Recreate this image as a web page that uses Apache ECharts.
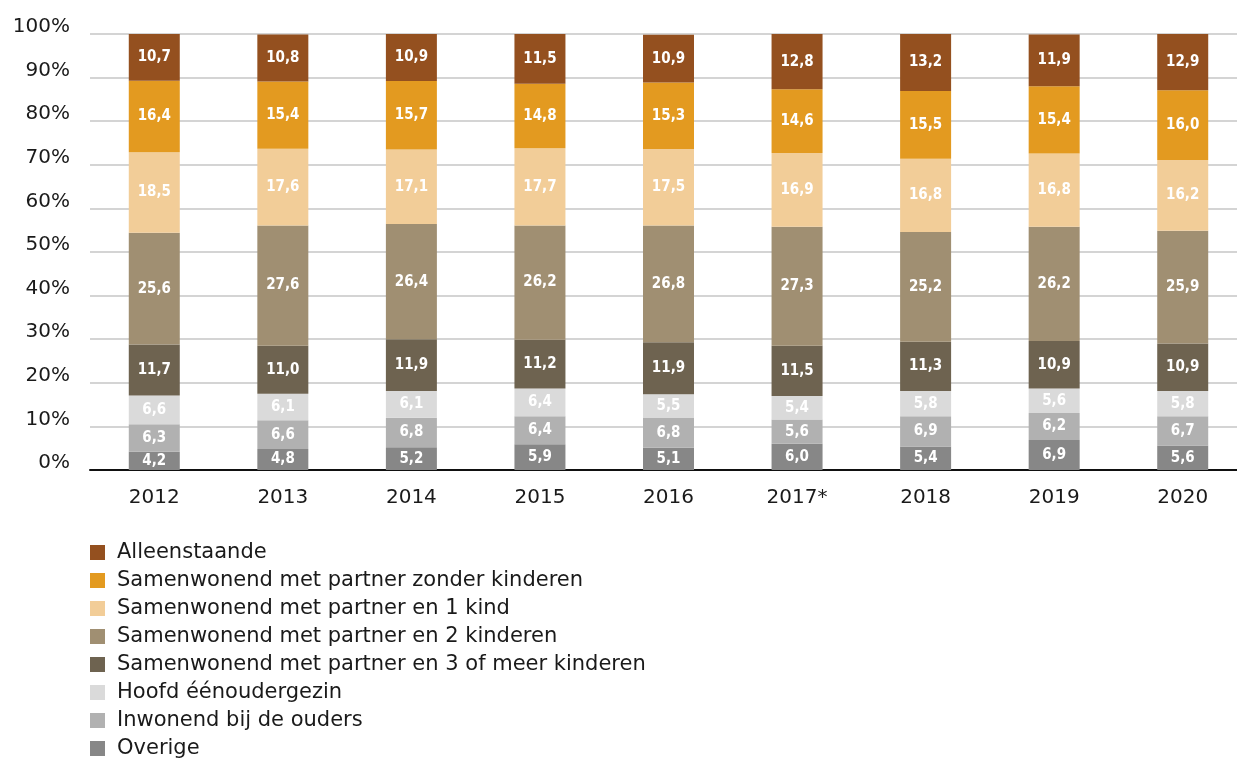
<!DOCTYPE html>
<html>
<head>
<meta charset="utf-8">
<script src="https://cdn.jsdelivr.net/npm/echarts@6/dist/echarts.min.js"></script>
<style>
  html, body { margin: 0; padding: 0; background: #fff; }
  #chart { width: 1237px; height: 758px; }
</style>
</head>
<body>
<div id="chart"></div>
<script>
// jaren
const years = ['2012', '2013', '2014', '2015', '2016', '2017*', '2018', '2019', '2020'];

// reeksen, van onder naar boven gestapeld
const overige      = [4.2, 4.8, 5.2, 5.9, 5.1, 6.0, 5.4, 6.9, 5.6];
const inwonend     = [6.3, 6.6, 6.8, 6.4, 6.8, 5.6, 6.9, 6.2, 6.7];
const eenouder     = [6.6, 6.1, 6.1, 6.4, 5.5, 5.4, 5.8, 5.6, 5.8];
const drieKinderen = [11.7, 11.0, 11.9, 11.2, 11.9, 11.5, 11.3, 10.9, 10.9];
const tweeKinderen = [25.6, 27.6, 26.4, 26.2, 26.8, 27.3, 25.2, 26.2, 25.9];
const eenKind      = [18.5, 17.6, 17.1, 17.7, 17.5, 16.9, 16.8, 16.8, 16.2];
const zonderKind   = [16.4, 15.4, 15.7, 14.8, 15.3, 14.6, 15.5, 15.4, 16.0];
const alleen       = [10.7, 10.8, 10.9, 11.5, 10.9, 12.8, 13.2, 11.9, 12.9];

const yTicks = [0, 10, 20, 30, 40, 50, 60, 70, 80, 90, 100];

const reeksen = [
  { name: 'Overige', data: overige, color: '#878787' },
  { name: 'Inwonend bij de ouders', data: inwonend, color: '#b1b1b1' },
  { name: 'Hoofd éénoudergezin', data: eenouder, color: '#dadada' },
  { name: 'Samenwonend met partner en 3 of meer kinderen', data: drieKinderen, color: '#6e6350' },
  { name: 'Samenwonend met partner en 2 kinderen', data: tweeKinderen, color: '#a08f72' },
  { name: 'Samenwonend met partner en 1 kind', data: eenKind, color: '#f2cd98' },
  { name: 'Samenwonend met partner zonder kinderen', data: zonderKind, color: '#e39a20' },
  { name: 'Alleenstaande', data: alleen, color: '#94501f' },
];

const labelFont = '"DejaVu Sans Condensed", "Liberation Sans Narrow", Roboto, sans-serif';
const tekstFont = '"DejaVu Sans", sans-serif';

const myChart = echarts.init(document.getElementById('chart'));

const option = {
  animation: false,
  grid: {
    left: 90,
    width: 1157,
    top: 34,
    bottom: 288,
    containLabel: false,
    outerBoundsMode: 'none', // grid mag buiten de rand lopen
  },
  legend: {
    orient: 'vertical',
    left: 85,
    top: 537,
    height: 400,
    itemWidth: 15,
    itemHeight: 15,
    itemGap: 7,
    icon: 'rect',
    data: reeksen.map((r) => r.name).reverse(),
    textStyle: {
      fontFamily: tekstFont,
      fontSize: 21,
      lineHeight: 20,
      color: '#1a1a1a',
      padding: [0, 0, 0, 7],
    },
  },
  xAxis: {
    type: 'category',
    data: years,
    axisLine: { lineStyle: { color: '#111', width: 2 } },
    axisTick: { show: false },
    axisLabel: {
      fontFamily: tekstFont,
      fontSize: 20,
      color: '#1a1a1a',
      margin: 18,
    },
  },
  yAxis: {
    type: 'value',
    min: 0,
    max: 100,
    interval: 10,
    axisLine: { show: false },
    axisTick: { show: false },
    splitLine: { lineStyle: { color: '#d4d4d4', width: 2 } },
    axisLabel: {
      fontFamily: tekstFont,
      fontSize: 20,
      color: '#1a1a1a',
      margin: 20,
      verticalAlign: 'bottom',
      lineHeight: 14,
      formatter: (v) => (yTicks.includes(v) ? v + '%' : ''),
    },
  },
  series: reeksen.map((r) => ({
    name: r.name,
    type: 'bar',
    stack: 'totaal',
    barWidth: 51,
    data: r.data,
    itemStyle: { color: r.color },
    label: {
      show: true,
      position: 'inside',
      color: '#fff',
      fontFamily: labelFont,
      fontWeight: 'bold',
      fontSize: 15,
      formatter: (p) => p.value.toFixed(1).replace('.', ','),
    },
  })),
};

myChart.setOption(option);
</script>
</body>
</html>
